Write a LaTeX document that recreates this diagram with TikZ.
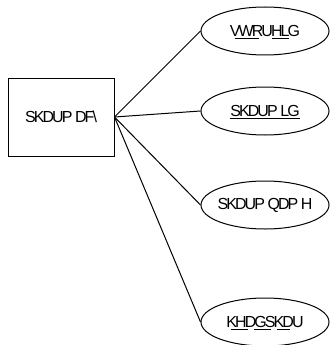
\documentclass[tikz,border=0pt]{standalone}
\usepackage{fontspec}
\setmainfont{Liberation Sans}[LetterSpace=-12]
\usetikzlibrary{shapes.geometric,calc}
\tikzset{
  entitybox/.style={draw, line width=1pt, minimum width=106pt, minimum height=78pt, inner sep=0pt},
  attr/.style={draw, ellipse, line width=1pt, minimum width=128pt, minimum height=48pt, inner sep=0pt},
  lbl/.style={inner sep=0pt, font=\fontsize{16pt}{18pt}\selectfont},
  link/.style={line width=1pt},
  uline/.style={line width=1pt}
}
\begin{document}
\begin{tikzpicture}[x=1pt,y=-1pt]
\useasboundingbox (0,0) rectangle (331,345);
\node[entitybox] (ent) at (61,117) {};
\node[lbl] (entt) at (61,117) {SKDUP DF\textbackslash};
\node[attr] (a1) at (265,31) {};
\node[attr] (a2) at (265,111) {};
\node[attr] (a3) at (265,205) {};
\node[attr] (a4) at (265,322) {};
\node[lbl] (t1) at (265,31) {VWRUHLG};
\node[lbl] (t2) at (265,111) {SKDUP LG};
\node[lbl] (t3) at (265,205) {SKDUP QDP H};
\node[lbl] (t4) at (265,322) {KHDGSKDU};
\draw[link] (ent.east) -- (a1.west);
\draw[link] (ent.east) -- (a2.west);
\draw[link] (ent.east) -- (a3.west);
\draw[link] (ent.east) -- (a4.west);
% underlines
\draw[uline] ($(t1.south west)!0.08!(t1.south east)+(0,2)$) -- ($(t1.south west)!0.42!(t1.south east)+(0,2)$);
\draw[uline] ($(t1.south west)!0.60!(t1.south east)+(0,2)$) -- ($(t1.south west)!0.84!(t1.south east)+(0,2)$);
\draw[uline] ($(t2.south west)+(0,2)$) -- ($(t2.south east)+(0,2)$);
\draw[uline] ($(t4.south west)!0.06!(t4.south east)+(0,2)$) -- ($(t4.south west)!0.28!(t4.south east)+(0,2)$);
\draw[uline] ($(t4.south west)!0.36!(t4.south east)+(0,2)$) -- ($(t4.south west)!0.58!(t4.south east)+(0,2)$);
\draw[uline] ($(t4.south west)!0.66!(t4.south east)+(0,2)$) -- ($(t4.south west)!0.82!(t4.south east)+(0,2)$);
\end{tikzpicture}
\end{document}
